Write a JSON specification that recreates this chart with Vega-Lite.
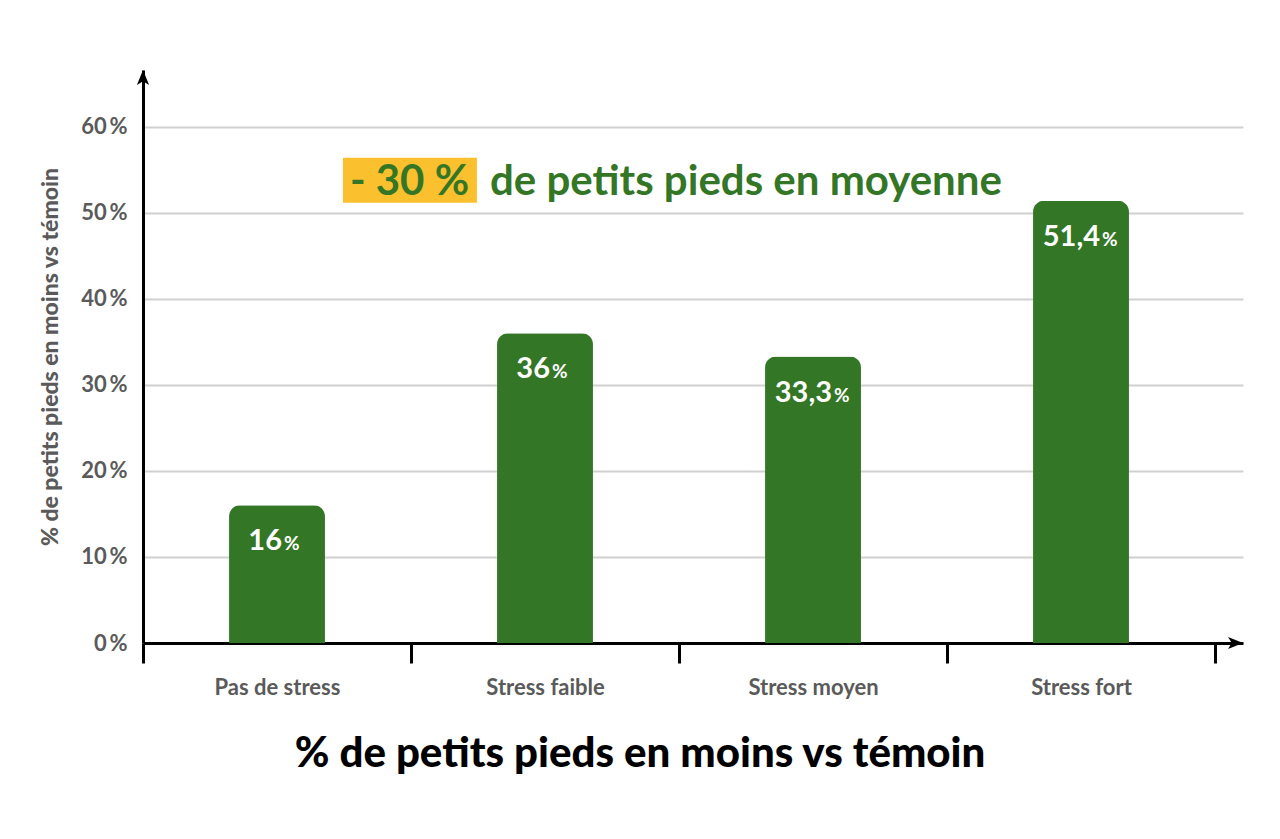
{
  "$schema": "https://vega.github.io/schema/vega-lite/v6.json",
  "width": 1100,
  "height": 573,
  "autosize": {"type": "none"},
  "padding": {"left": 143, "top": 70, "right": 37, "bottom": 196},
  "background": "white",
  "config": {
    "font": "Lato",
    "view": {"stroke": null},
    "locale": {"number": {"decimal": ",", "thousands": "\u00a0", "grouping": [3], "currency": ["", "\u00a0€"]}}
  },
  "title": {
    "text": "% de petits pieds en moins vs témoin",
    "orient": "bottom",
    "anchor": "middle",
    "frame": "group",
    "dx": -53,
    "offset": 36,
    "font": "Lato",
    "fontSize": 42,
    "fontWeight": 900,
    "color": "#000000"
  },
  "datasets": {
    "bars": [
      {"categorie": "Pas de stress", "value": 16},
      {"categorie": "Stress faible", "value": 36},
      {"categorie": "Stress moyen", "value": 33.3},
      {"categorie": "Stress fort", "value": 51.4}
    ],
    "boxes": [
      {"x1": 0.746, "x2": 1.246, "y1": 56.4, "y2": 51.16}
    ],
    "notes": [
      {"label": "- 30 %", "nx": 0.9944, "ny": 52.1, "part": "a"},
      {"label": "de petits pieds en moyenne", "nx": 1.2948, "ny": 52.1, "part": "b"}
    ],
    "arrows": [
      {"ax": 0, "ay": 66.6, "dir": "up"},
      {"ax": 4.1045, "ay": 0, "dir": "right"}
    ]
  },
  "resolve": {"scale": {"x": "independent"}},
  "layer": [
    {
      "data": {"name": "bars"},
      "encoding": {
        "x": {
          "field": "categorie",
          "type": "nominal",
          "sort": null,
          "scale": {"paddingInner": 0, "paddingOuter": 0.05224, "align": 0},
          "axis": {
            "title": null,
            "tickBand": "extent",
            "domainColor": "#000000",
            "domainWidth": 3,
            "tickColor": "#000000",
            "tickWidth": 3,
            "tickSize": 20,
            "labelAngle": 0,
            "labelFont": "Lato",
            "labelFontSize": 22,
            "labelFontWeight": "bold",
            "labelColor": "#5a5a5a",
            "labelPadding": 14,
            "grid": false
          }
        },
        "y": {
          "field": "value",
          "type": "quantitative",
          "scale": {"domain": [0, 66.6], "nice": false, "zero": true},
          "axis": {
            "title": "% de petits pieds en moins vs témoin",
            "titleFont": "Lato",
            "titleFontSize": 23,
            "titleFontWeight": 900,
            "titleColor": "#5a5a5a",
            "titlePadding": 18,
            "values": [0, 10, 20, 30, 40, 50, 60],
            "labelExpr": "datum.value + '\u2009%'",
            "labelFont": "Lato",
            "labelFontSize": 22,
            "labelFontWeight": "bold",
            "labelColor": "#5a5a5a",
            "labelPadding": 16,
            "ticks": false,
            "domainColor": "#000000",
            "domainWidth": 3,
            "grid": true,
            "gridColor": "#d0d0d0",
            "gridWidth": 2
          }
        }
      },
      "layer": [
        {
          "mark": {"type": "bar", "width": {"band": 0.358}, "color": "#337625", "cornerRadiusTopLeft": 11, "cornerRadiusTopRight": 11}
        },
        {
          "transform": [{"filter": "datum.value % 1 == 0"}],
          "mark": {"type": "text", "align": "right", "baseline": "middle", "dx": 5, "dy": 36, "font": "Lato", "fontSize": 29, "fontWeight": "bold", "color": "white"},
          "encoding": {"text": {"field": "value", "type": "quantitative", "format": ".3~r"}}
        },
        {
          "transform": [{"filter": "datum.value % 1 != 0"}],
          "mark": {"type": "text", "align": "right", "baseline": "middle", "dx": 19, "dy": 36, "font": "Lato", "fontSize": 29, "fontWeight": "bold", "color": "white"},
          "encoding": {"text": {"field": "value", "type": "quantitative", "format": ".3~r"}}
        },
        {
          "transform": [{"filter": "datum.value % 1 == 0"}],
          "mark": {"type": "text", "align": "left", "baseline": "middle", "dx": 7, "dy": 39, "font": "Lato", "fontSize": 19, "fontWeight": "bold", "color": "white", "text": "%"}
        },
        {
          "transform": [{"filter": "datum.value % 1 != 0"}],
          "mark": {"type": "text", "align": "left", "baseline": "middle", "dx": 21, "dy": 39, "font": "Lato", "fontSize": 19, "fontWeight": "bold", "color": "white", "text": "%"}
        }
      ]
    },
    {
      "layer": [
        {
          "data": {"name": "boxes"},
          "mark": {"type": "rect", "color": "#fbc02d"},
          "encoding": {
            "x": {"field": "x1", "type": "quantitative", "scale": {"domain": [0, 4.1045], "nice": false, "zero": false}, "axis": null},
            "x2": {"field": "x2"},
            "y": {"field": "y1", "type": "quantitative"},
            "y2": {"field": "y2"}
          }
        },
        {
          "data": {"name": "notes"},
          "transform": [{"filter": "datum.part == 'a'"}],
          "mark": {"type": "text", "align": "center", "baseline": "alphabetic", "font": "Lato", "fontSize": 42, "fontWeight": "bold", "color": "#337625"},
          "encoding": {
            "x": {"field": "nx", "type": "quantitative", "scale": {"domain": [0, 4.1045], "nice": false, "zero": false}, "axis": null},
            "y": {"field": "ny", "type": "quantitative"},
            "text": {"field": "label"}
          }
        },
        {
          "data": {"name": "notes"},
          "transform": [{"filter": "datum.part == 'b'"}],
          "mark": {"type": "text", "align": "left", "baseline": "alphabetic", "font": "Lato", "fontSize": 42, "fontWeight": "bold", "color": "#337625"},
          "encoding": {
            "x": {"field": "nx", "type": "quantitative", "scale": {"domain": [0, 4.1045], "nice": false, "zero": false}, "axis": null},
            "y": {"field": "ny", "type": "quantitative"},
            "text": {"field": "label"}
          }
        },
        {
          "data": {"name": "arrows"},
          "mark": {"type": "point", "filled": true, "color": "#000000", "opacity": 1, "size": 350, "strokeWidth": 0},
          "encoding": {
            "x": {"field": "ax", "type": "quantitative", "scale": {"domain": [0, 4.1045], "nice": false, "zero": false}, "axis": null},
            "y": {"field": "ay", "type": "quantitative"},
            "shape": {
              "field": "dir",
              "type": "nominal",
              "scale": {"domain": ["up", "right"], "range": ["M0,0L0.65,1.6L0,1.2L-0.65,1.6Z", "M0,0L-1.6,-0.65L-1.2,0L-1.6,0.65Z"]},
              "legend": null
            }
          }
        }
      ]
    }
  ]
}
